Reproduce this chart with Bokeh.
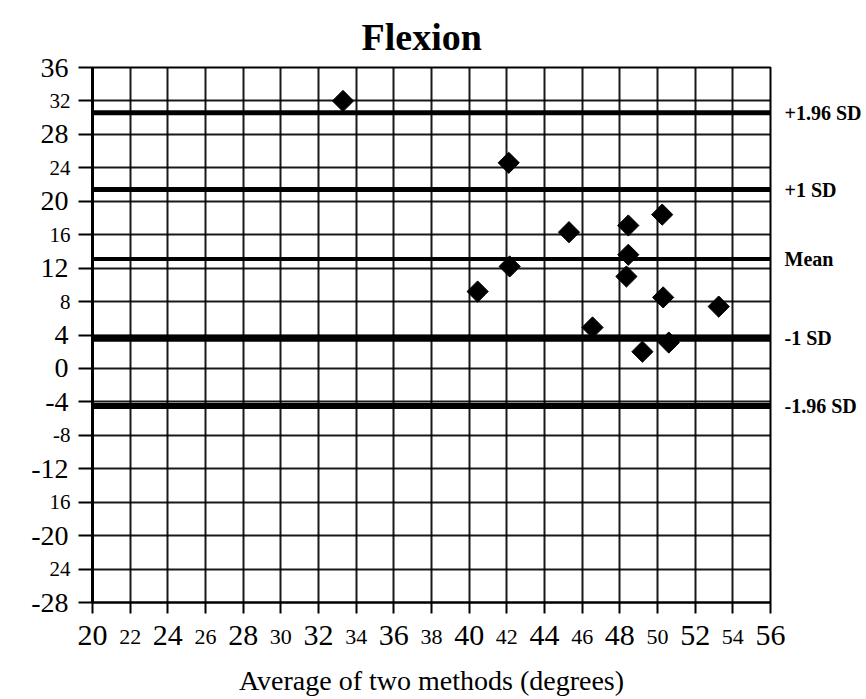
import numpy as np
from bokeh.plotting import figure
from bokeh.models import FixedTicker, ColumnDataSource, Span, Range1d, LinearAxis
from bokeh.embed import file_html
from bokeh.resources import INLINE

# ---------------- data ----------------
title_text = "Flexion"
x_label = "Average of two methods (degrees)"

avg = [33.3, 42.1, 40.45, 42.15, 45.3, 46.55, 48.45, 50.25, 48.45, 48.35, 50.3, 53.25, 49.2, 50.6]
diff = [32.0, 24.6, 9.2, 12.2, 16.3, 4.9, 17.1, 18.4, 13.6, 11.0, 8.5, 7.4, 2.0, 3.1]

x_ticks_big = [20, 24, 28, 32, 36, 40, 44, 48, 52, 56]
x_ticks_small = [22, 26, 30, 34, 38, 42, 46, 50, 54]

y_ticks_big = [36, 28, 20, 12, 4, 0, -4, -12, -20, -28]
y_big_text = ["36", "28", "20", "12", "4", "0", "-4", "-12", "-20", "-28"]
y_ticks_small = [32, 24, 16, 8, -8, -16, -24]
y_small_text = ["32", "24", "16", "8", "-8", "16", "24"]

sd_values = [30.6, 21.4, 13.1, 3.6, -4.5]
sd_labels = ["+1.96 SD", "+1 SD", "Mean", "-1 SD", "-1.96 SD"]

# ---------------- styles ----------------
FONT = "Liberation Serif"
sd_widths = [5, 5, 4, 7, 6]

x_lo, x_hi = 20, 56
y_lo, y_hi = -28, 36

p = figure(width=864, height=699,
           x_range=Range1d(x_lo, x_hi), y_range=Range1d(y_lo, y_hi),
           output_backend="svg", toolbar_location=None,
           min_border_left=92, min_border_right=87,
           min_border_top=67, min_border_bottom=97)

p.background_fill_color = "white"
p.border_fill_color = "white"
p.outline_line_color = "black"
p.outline_line_width = 2

# title
p.title.text = title_text
p.title.text_font = FONT
p.title.text_font_size = "38px"
p.title.text_font_style = "bold"
p.title.text_color = "black"
p.title.align = "left"
p.title.offset = 269
p.title.vertical_align = "top"
p.title.standoff = 16

# grid
all_x = sorted(x_ticks_big + x_ticks_small)
all_y = sorted(y_ticks_big + y_ticks_small)
p.xgrid.ticker = FixedTicker(ticks=all_x)
p.ygrid.ticker = FixedTicker(ticks=all_y)
for g in (p.xgrid, p.ygrid):
    g.grid_line_color = "black"
    g.grid_line_width = 2
    g.grid_line_alpha = 0.9

# primary x axis (large labels)
xa = p.xaxis[0]
xa.ticker = FixedTicker(ticks=x_ticks_big, minor_ticks=x_ticks_small)
xa.axis_line_color = "black"
xa.axis_line_width = 2
xa.major_tick_line_color = "black"
xa.major_tick_line_width = 2
xa.major_tick_out = 11
xa.major_tick_in = 0
xa.minor_tick_line_color = "black"
xa.minor_tick_line_width = 2
xa.minor_tick_out = 11
xa.minor_tick_in = 0
xa.major_label_standoff = 12
xa.major_label_text_font = FONT
xa.major_label_text_font_size = "30px"
xa.major_label_text_color = "black"

# secondary x axis (small labels, pulled back in line with the large ones)
xa2 = LinearAxis(ticker=FixedTicker(ticks=x_ticks_small))
xa2.axis_line_color = None
xa2.major_tick_line_color = None
xa2.minor_tick_line_color = None
xa2.major_label_standoff = -24
xa2.major_label_text_font = FONT
xa2.major_label_text_font_size = "22px"
xa2.major_label_text_color = "black"
xa2.axis_label = x_label
xa2.axis_label_text_font = FONT
xa2.axis_label_text_font_size = "28px"
xa2.axis_label_text_font_style = "normal"
xa2.axis_label_text_color = "black"
xa2.axis_label_standoff = 18
p.add_layout(xa2, "below")

# primary y axis (large labels)
ya = p.yaxis[0]
ya.ticker = FixedTicker(ticks=y_ticks_big, minor_ticks=y_ticks_small)
ya.major_label_overrides = dict(zip(y_ticks_big, y_big_text))
ya.axis_line_color = "black"
ya.axis_line_width = 3
ya.major_tick_line_color = "black"
ya.major_tick_line_width = 2
ya.major_tick_out = 14
ya.major_tick_in = 0
ya.minor_tick_line_color = "black"
ya.minor_tick_line_width = 2
ya.minor_tick_out = 14
ya.minor_tick_in = 0
ya.major_label_standoff = 10
ya.major_label_text_font = FONT
ya.major_label_text_font_size = "28px"
ya.major_label_text_color = "black"

# secondary y axis (small labels)
ya2 = LinearAxis(ticker=FixedTicker(ticks=y_ticks_small))
ya2.major_label_overrides = dict(zip(y_ticks_small, y_small_text))
ya2.axis_line_color = None
ya2.major_tick_line_color = None
ya2.minor_tick_line_color = None
ya2.major_label_standoff = -48
ya2.major_label_text_font = FONT
ya2.major_label_text_font_size = "21px"
ya2.major_label_text_color = "black"
p.add_layout(ya2, "left")

# SD / mean lines
for v, w in zip(sd_values, sd_widths):
    p.add_layout(Span(location=v, dimension="width", line_color="black", line_width=w))

# right-hand labels for the SD / mean lines
ra = LinearAxis(ticker=FixedTicker(ticks=sd_values))
ra.major_label_overrides = dict(zip(sd_values, sd_labels))
ra.axis_line_color = None
ra.major_tick_line_color = None
ra.minor_tick_line_color = None
ra.major_label_standoff = 8
ra.major_label_text_font = FONT
ra.major_label_text_font_size = "20px"
ra.major_label_text_font_style = "bold"
ra.major_label_text_color = "black"
p.add_layout(ra, "right")

# points
pts = ColumnDataSource(dict(x=avg, y=diff))
p.scatter("x", "y", source=pts, marker="square", angle=np.pi / 4, size=15,
          fill_color="black", line_color="black")

open("out.html", "w").write(file_html(p, INLINE))
